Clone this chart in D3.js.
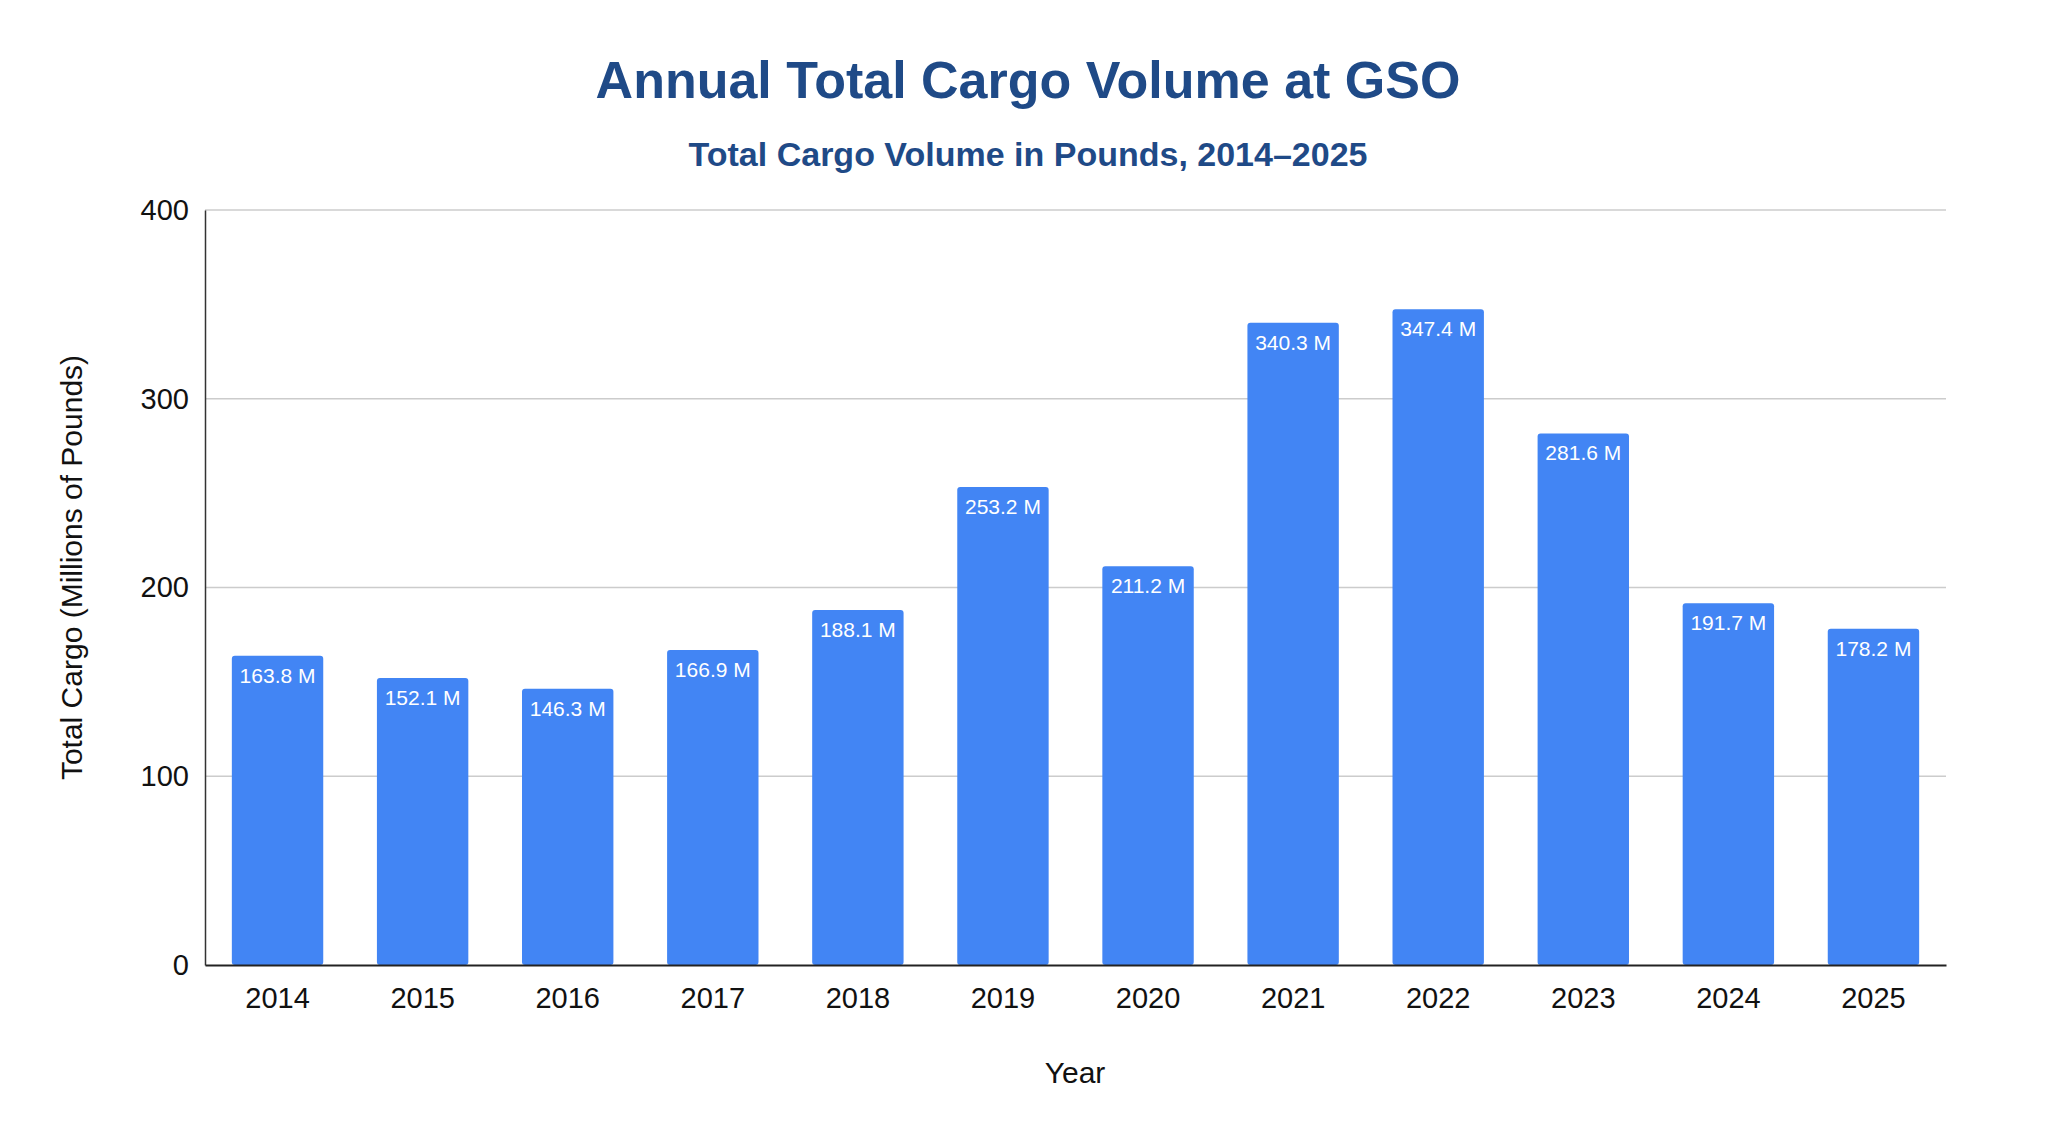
<!DOCTYPE html>
<html>
<head>
<meta charset="utf-8">
<script src="https://cdn.jsdelivr.net/npm/d3@7"></script>
<style>
  body { margin: 0; background: #fff; font-family: Arial, "Liberation Sans", sans-serif; }
</style>
</head>
<body>
<div id="chart"></div>
<script>
var years = ["2014", "2015", "2016", "2017", "2018", "2019", "2020", "2021", "2022", "2023", "2024", "2025"];
var cargo = [163.8, 152.1, 146.3, 166.9, 188.1, 253.2, 211.2, 340.3, 347.4, 281.6, 191.7, 178.2];
var yTicks = [0, 100, 200, 300, 400];

var W = 2048, H = 1124;
var margin = {top: 210, right: 102, bottom: 159, left: 205},
    width = W - margin.left - margin.right,
    height = H - margin.top - margin.bottom;

var svg = d3.select("#chart").append("svg")
    .attr("width", W)
    .attr("height", H);

svg.append("text")
    .attr("x", W / 2 + 4).attr("y", 98)
    .attr("text-anchor", "middle")
    .style("font-size", "52px").style("font-weight", "bold").style("fill", "#1f4a87")
    .text("Annual Total Cargo Volume at GSO");

svg.append("text")
    .attr("x", W / 2 + 4).attr("y", 166)
    .attr("text-anchor", "middle")
    .style("font-size", "34px").style("font-weight", "bold").style("fill", "#1f4a87")
    .text("Total Cargo Volume in Pounds, 2014\u20132025");

var g = svg.append("g")
    .attr("transform", "translate(" + margin.left + "," + margin.top + ")");

var x = d3.scaleBand()
    .domain(years)
    .range([0, width])
    .paddingInner(0.37)
    .paddingOuter(0.185);

var y = d3.scaleLinear()
    .domain([0, 400])
    .range([height, 0]);

// grid
g.append("g").selectAll("line")
    .data(yTicks.slice(1))
  .enter().append("line")
    .attr("x1", 0).attr("x2", width)
    .attr("y1", function(d) { return y(d); })
    .attr("y2", function(d) { return y(d); })
    .style("stroke", "#cccccc").style("stroke-width", 1.5);

var yAxis = d3.axisLeft(y).tickValues(yTicks).tickSize(0).tickPadding(16);
g.append("g")
    .call(yAxis)
    .call(function(s) {
      s.select(".domain").style("stroke", "#333").style("stroke-width", 1.5);
      s.selectAll("text").style("font-size", "29px").style("fill", "#111").style("font-family", "Arial, 'Liberation Sans', sans-serif");
    });

g.append("g").selectAll(".bar")
    .data(cargo)
  .enter().append("rect")
    .attr("class", "bar")
    .attr("x", function(d, i) { return x(years[i]); })
    .attr("width", x.bandwidth())
    .attr("y", function(d) { return y(d); })
    .attr("height", function(d) { return height - y(d); })
    .attr("rx", 3)
    .style("fill", "#4285f4");

g.append("g").selectAll(".label")
    .data(cargo)
  .enter().append("text")
    .attr("x", function(d, i) { return x(years[i]) + x.bandwidth() / 2; })
    .attr("y", function(d) { return y(d) + 27; })
    .attr("text-anchor", "middle")
    .style("font-size", "21px").style("fill", "#fff")
    .text(function(d) { return d.toFixed(1) + " M"; });

var xAxis = d3.axisBottom(x).tickSize(0).tickPadding(22);
g.append("g")
    .attr("transform", "translate(0," + height + ")")
    .call(xAxis)
    .call(function(s) {
      s.select(".domain").style("stroke", "#222").style("stroke-width", 2);
      s.selectAll("text").style("font-size", "29px").style("fill", "#111").style("font-family", "Arial, 'Liberation Sans', sans-serif");
    });

svg.append("text")
    .attr("x", 1075).attr("y", 1083)
    .attr("text-anchor", "middle")
    .style("font-size", "30px").style("fill", "#111")
    .text("Year");

svg.append("text")
    .attr("transform", "translate(82," + (margin.top + height / 2 - 20) + ") rotate(-90)")
    .attr("text-anchor", "middle")
    .style("font-size", "30px").style("fill", "#111")
    .text("Total Cargo (Millions of Pounds)");
</script>
</body>
</html>
